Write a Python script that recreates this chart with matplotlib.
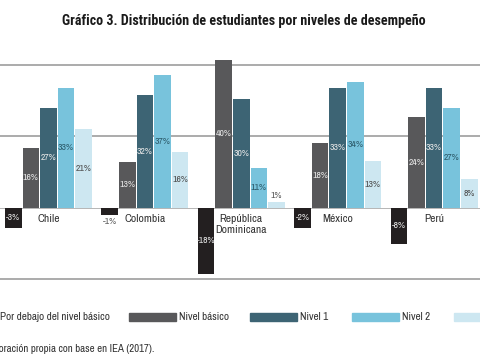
import numpy as np
import matplotlib
matplotlib.use("Agg")
import matplotlib.pyplot as plt
from matplotlib.patches import Rectangle
from matplotlib import font_manager

plt.rcParams['font.family'] = ['Archivo Narrow', 'DejaVu Sans']

# pick a bold condensed face for the title
title_family = 'Archivo Narrow'
for cand in ['Archivo Narrow', 'Roboto Condensed', 'IBM Plex Sans Condensed',
             'Barlow Semi Condensed', 'Encode Sans Condensed', 'Open Sans Condensed']:
    faces = [f for f in font_manager.fontManager.ttflist if f.name == cand]
    if any((f.weight if isinstance(f.weight, int) else 400) >= 600 or f.weight == 'bold'
           for f in faces):
        title_family = cand
        break

# data (bar heights in %, printed labels as shown)
countries = ['Chile', 'Colombia', 'República\nDominicana', 'México', 'Perú']
series_names = ['Por debajo del nivel básico', 'Nivel básico', 'Nivel 1', 'Nivel 2', 'Nivel 3']
below_basic = [-5.7, -2.1, -18.6, -5.7, -10.2]
level_basic = [16.8, 12.9, 41.5, 18.0, 25.4]
level_1 = [27.9, 31.5, 30.4, 33.7, 33.7]
level_2 = [33.7, 37.1, 11.1, 35.3, 27.9]
level_3 = [22.0, 15.6, 1.5, 13.0, 7.9]
below_labels = ['-3%', '-1%', '-18%', '-2%', '-8%']
basic_labels = ['16%', '13%', '40%', '18%', '24%']
n1_labels = ['27%', '32%', '30%', '33%', '33%']
n2_labels = ['33%', '37%', '11%', '34%', '27%']
n3_labels = ['21%', '16%', '1%', '13%', '8%']

colors = ['#231f20', '#58585a', '#3d6474', '#78c3dc', '#cde7f1']
text_colors = ['#e6e6e6', '#e6e6e6', '#e6e6e6', '#2c5b6b', '#4f4f4f']

W, H = 480, 359
fig = plt.figure(figsize=(4.8, 3.59), dpi=100)

# axes covers pixel rows 40..290, full width
top_px, bot_px = 40, 290
ax = fig.add_axes([0, (H - bot_px) / H, 1, (bot_px - top_px) / H])
ax.set_xlim(-0.756, 26.52)
ax.set_ylim(-23.17, 47.05)
ax.axis('off')

for gy in [-20, 20, 40]:
    ax.axhline(gy, color='#a5a5a5', lw=1.3, zorder=0)
ax.axhline(0, color='#b5b5b5', lw=0.7, zorder=0)

all_vals = [below_basic, level_basic, level_1, level_2, level_3]
all_labels = [below_labels, basic_labels, n1_labels, n2_labels, n3_labels]
group_step = 5.477
for i, country in enumerate(countries):
    x0 = i * group_step
    for j in range(5):
        v = all_vals[j][i]
        xc = x0 + j
        ax.bar(xc, v, width=0.94, color=colors[j], zorder=2)
        lab = all_labels[j][i]
        if abs(v) < 2.5:
            # too small to hold the label, put it just outside the bar
            yy = v - 1.8 if v < 0 else v + 1.8
            ax.text(xc, yy, lab, ha='center', va='center', fontsize=7,
                    color='#5a5a5a', zorder=3)
        else:
            ax.text(xc, v / 2, lab, ha='center', va='center', fontsize=7,
                    color=text_colors[j], zorder=3)
    ax.text(x0 + 2, -1.9, country, ha='center', va='top', fontsize=8.3,
            color='#333333', linespacing=1.1, zorder=3)

fig.text(0.507, 1 - 21 / H, 'Gráfico 3. Distribución de estudiantes por niveles de desempeño',
         ha='center', va='center', fontsize=10.1, fontweight='bold',
         family=[title_family, 'DejaVu Sans'], color='#1a1a1a')

# legend drawn by hand (left part is cut off in the reference)
patch_x = [-50, 129, 250, 352, 454]
for k, name in enumerate(series_names):
    px = patch_x[k]
    fig.patches.append(Rectangle((px / W, 1 - 321 / H), 47 / W, 8.5 / H,
                                 transform=fig.transFigure, color=colors[k]))
    fig.text((px + 50) / W, 1 - 316.5 / H, name, ha='left', va='center',
             fontsize=8, color='#333333')

fig.text(154 / W, 1 - 349 / H, 'Fuente: Elaboración propia con base en IEA (2017).',
         ha='right', va='center', fontsize=7.8, color='#333333')

fig.savefig('out.png', dpi=100)
